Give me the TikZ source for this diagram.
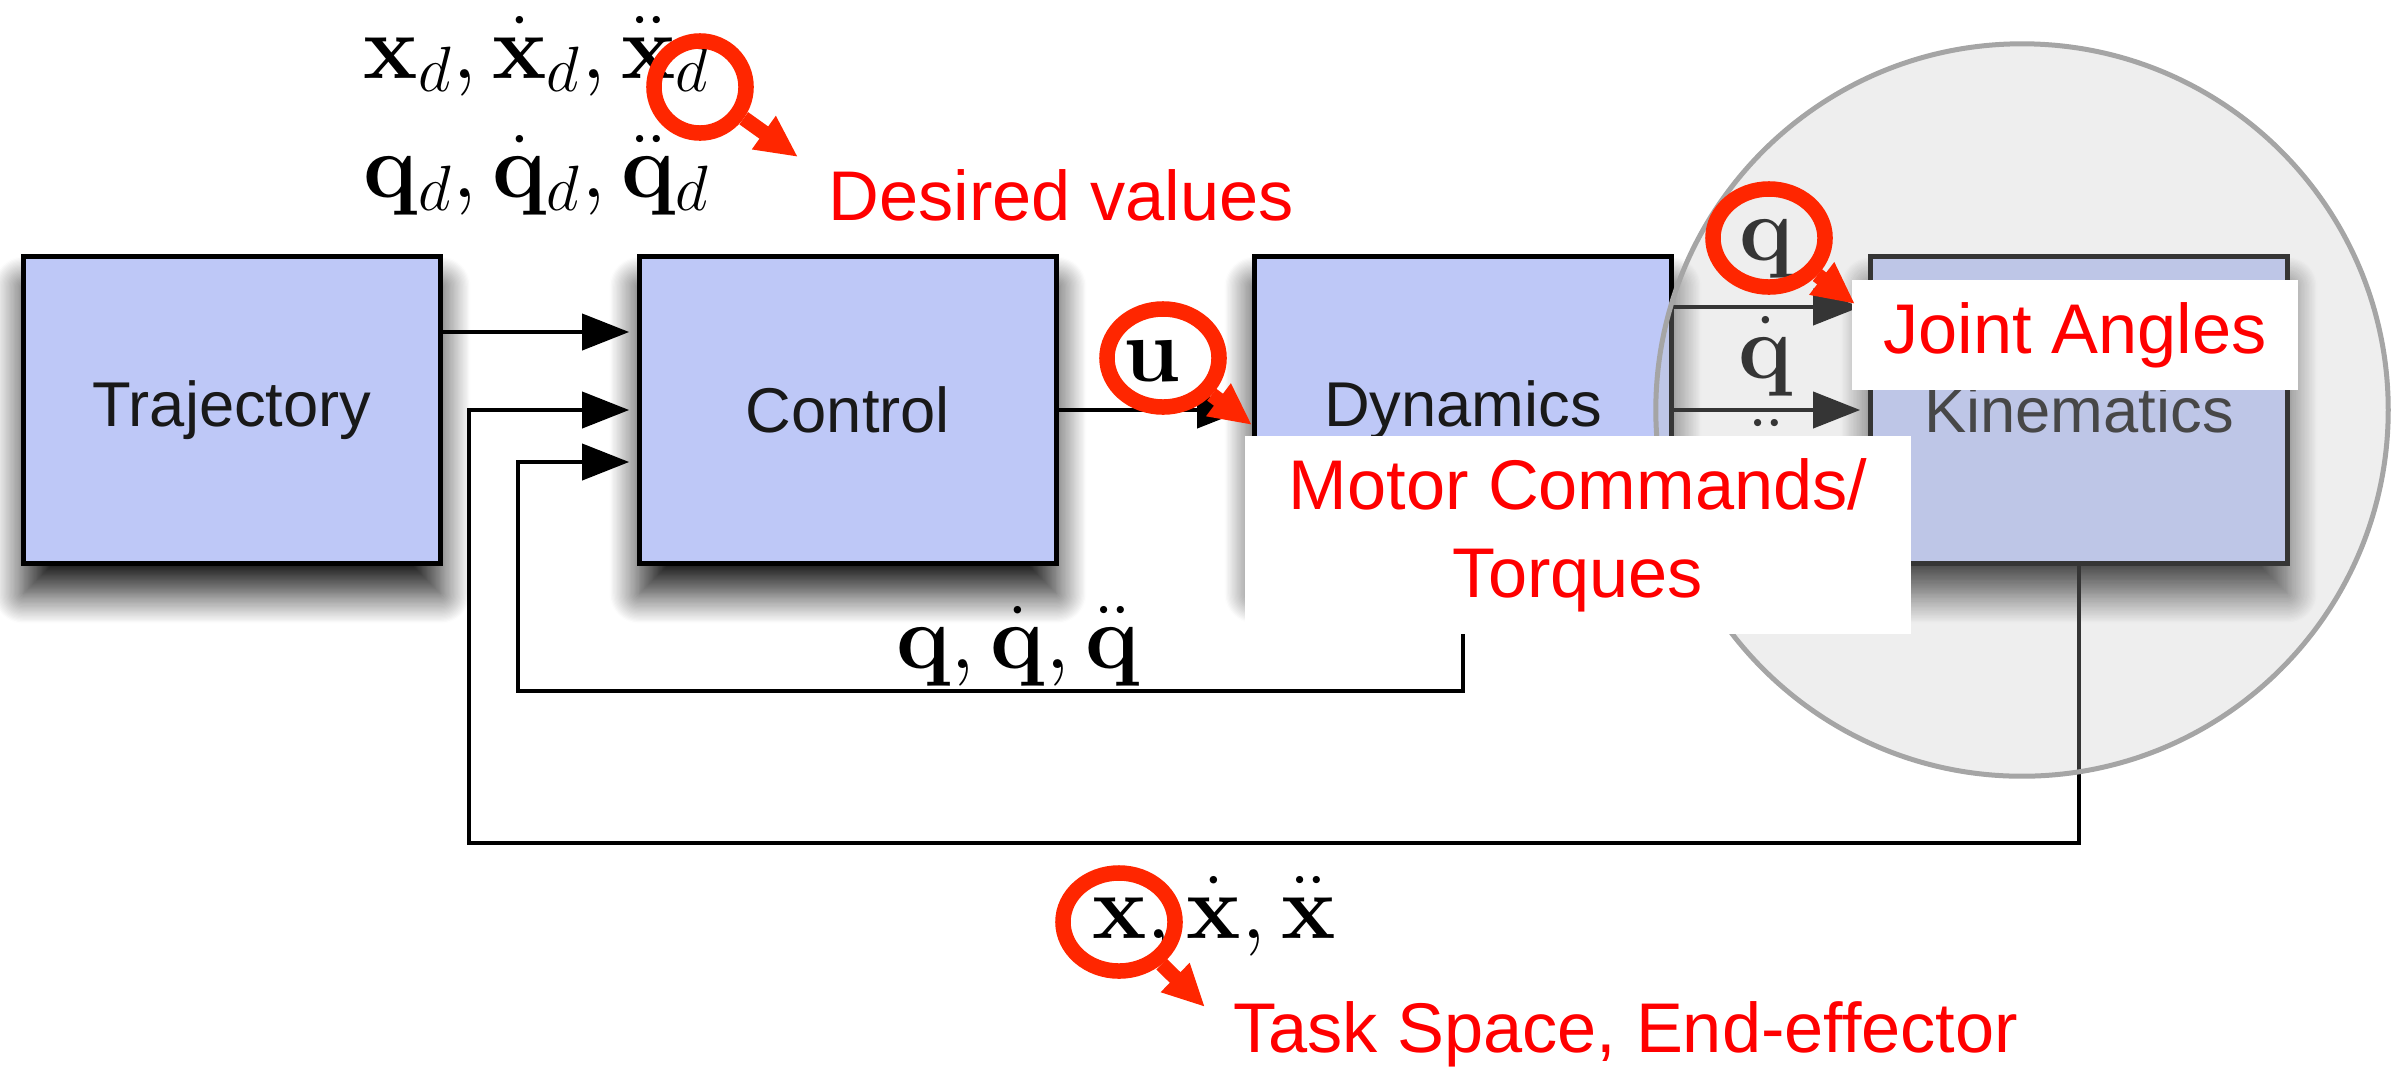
\RequirePackage{fix-cm}
\documentclass[tikz,border=0pt]{standalone}
\usepackage{amsmath,amssymb}
\usepackage[no-math]{fontspec}
\setmainfont{Liberation Sans}
\usepackage{tikz}
\usepackage{xcolor}
\usetikzlibrary{arrows.meta,calc,shadows.blur,shapes.geometric}

\definecolor{blockfill}{RGB}{190,200,247}
\definecolor{lensfill}{RGB}{193,193,193}
\definecolor{lensrim}{RGB}{165,165,165}
\definecolor{markred}{RGB}{255,38,0}

\begin{document}
\begin{tikzpicture}[x=0.01cm,y=-0.01cm,
  block/.style={draw=black,line width=0.045cm,fill=blockfill,text=black!90,
    minimum width=4.17cm,minimum height=3.07cm,font=\fontsize{18}{22}\selectfont,
    blur shadow={shadow xshift=0cm,shadow yshift=-0.3cm,shadow blur radius=0.3cm,shadow blur steps=24,shadow opacity=90}},
  wire/.style={line width=0.04cm,shorten >=0.08cm,-{Triangle[length=0.47cm,width=0.36cm]}},
  sig/.style={inner sep=0pt,font=\fontsize{26}{30}\selectfont},
  note/.style={text=red,font=\fontsize{20}{25}\selectfont},
  lens/.style={draw=markred,line width=0.155cm,ellipse,inner sep=0pt,minimum width=1.12cm,minimum height=0.98cm},
  pointer/.style={draw=markred,line width=0.15cm,-{Triangle[length=0.42cm,width=0.38cm]}}]
\useasboundingbox (0,0) rectangle (2407,1066);

% blocks
\node[block] (traj) at (232,410) {Trajectory};
\node[block] (ctrl) at (848,410) {Control};
\node[block] (dyn) at (1463,410) {Dynamics};
\node[block] (kin) at (2079,410) {Kinematics};

% signals
\coordinate (fbx) at ($(ctrl.west)+(-168,0)$);
\coordinate (fbq) at ($(ctrl.west)+(-119,52)$);
\draw[wire] ($(traj.east)+(0,-78)$) -- ($(ctrl.west)+(0,-78)$);
\draw[wire] (kin.south) |- ($(fbx)+(0,433)$) -- (fbx) -- (ctrl.west);
\draw[wire] (dyn.south) |- ($(fbq)+(0,229)$) -- (fbq) -- ($(ctrl.west)+(0,52)$);
\draw[wire] (ctrl.east) -- (dyn.west);
\foreach \dy in {-103,0,103}
  \draw[wire] ($(dyn.east)+(0,\dy)$) -- ($(kin.west)+(0,\dy)$);

\node[sig,anchor=base] (xdes) at (537,78) {$\mathbf{x}_d, \dot{\mathbf{x}}_d, \ddot{\mathbf{x}}_d$};
\node[sig,anchor=base] (qdes) at (537,197) {$\mathbf{q}_d, \dot{\mathbf{q}}_d, \ddot{\mathbf{q}}_d$};
\node[sig,anchor=base] (ulab) at (1152,381) {$\mathbf{u}$};
\node[sig,anchor=base] (qpos) at (1767,260) {$\mathbf{q}$};
\node[sig,anchor=base] (qvel) at (1766,378) {$\dot{\mathbf{q}}$};
\node[sig,anchor=base] (qacc) at (1766,481) {$\ddot{\mathbf{q}}$};
\node[sig,anchor=base] (qfb) at (1018,668) {$\mathbf{q}, \dot{\mathbf{q}}, \ddot{\mathbf{q}}$};
\node[sig,anchor=base] (xfb) at (1214,938) {$\mathbf{x}, \dot{\mathbf{x}}, \ddot{\mathbf{x}}$};

% highlight
\node[circle,minimum size=7.32cm,fill=lensfill,fill opacity=0.28,draw=lensrim,draw opacity=1,line width=0.05cm] (zoomlens) at (2022,410) {};

% annotations
\node[note,fill=white,anchor=base west] (desired) at (816,220) {Desired values};
\node[note,fill=white,minimum width=4.45cm,minimum height=1.1cm] (joint) at (2075,335) {Joint Angles};
\node[note,fill=white,align=center,minimum width=6.65cm,minimum height=1.97cm] (motor) at (1578,535) {Motor Commands/\\Torques};
\node[note,anchor=base west] (taskspace) at (1221,1052) {Task Space, End-effector};

\node[lens,minimum width=0.92cm,minimum height=0.92cm] (lensxd) at (700,87) {};
\node[lens] (lensu) at (1163,358) {};
\node[lens] (lensq) at (1769,238) {};
\node[lens] (lensx) at (1119,922) {};
\coordinate (tipxd) at (798,157);
\coordinate (tipu) at (1252,425);
\coordinate (tipq) at (1855,304);
\coordinate (tipx) at (1205,1007);
\draw[pointer] (lensxd) -- (tipxd);
\draw[pointer] (lensu) -- (tipu);
\draw[pointer] (lensq) -- (tipq);
\draw[pointer] (lensx) -- (tipx);
\end{tikzpicture}
\end{document}
